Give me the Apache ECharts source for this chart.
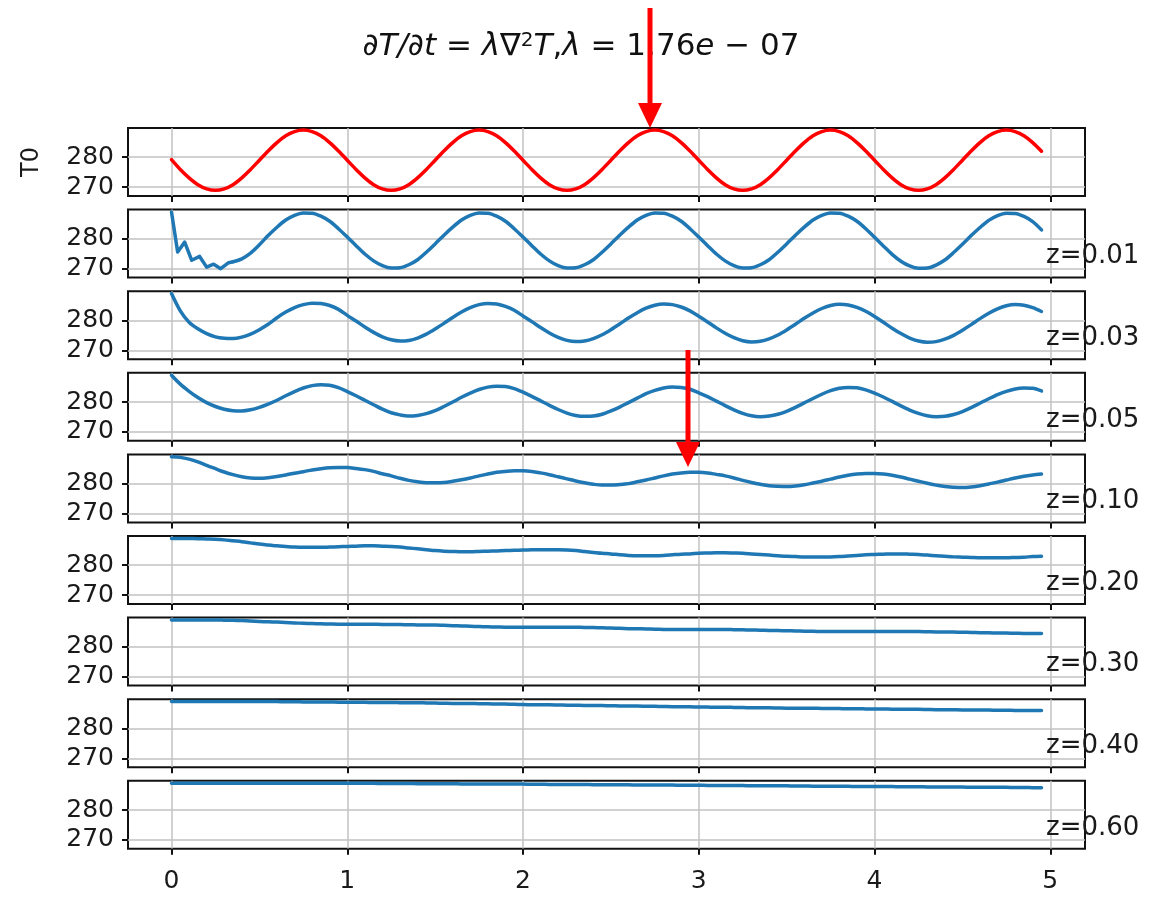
<!DOCTYPE html>
<html><head><meta charset="utf-8">
<script src="https://cdn.jsdelivr.net/npm/echarts@6/dist/echarts.min.js"></script>
<style>html,body{margin:0;padding:0;background:#fff}#c{width:1162px;height:898px}</style>
</head><body><div id="c"></div>
<script>
const times = [
  0,0.05,0.1,0.15,0.2,0.25,0.3,0.35,0.4,0.45,0.5,0.55,0.6,0.65,0.7,0.75,0.8,0.85,0.9,0.95,
  1,1.05,1.1,1.15,1.2,1.25,1.3,1.35,1.4,1.45,1.5,1.55,1.6,1.65,1.7,1.75,1.8,1.85,1.9,1.95,
  2,2.05,2.1,2.15,2.2,2.25,2.3,2.35,2.4,2.45,2.5,2.55,2.6,2.65,2.7,2.75,2.8,2.85,2.9,2.95,
  3,3.05,3.1,3.15,3.2,3.25,3.3,3.35,3.4,3.45,3.5,3.55,3.6,3.65,3.7,3.75,3.8,3.85,3.9,3.95,
  4,4.05,4.1,4.15,4.2,4.25,4.3,4.35,4.4,4.45,4.5,4.55,4.6,4.65,4.7,4.75,4.8,4.85,4.9,4.95];

const T0 = [
  279.2,275.9,273.1,270.8,269.4,268.9,269.4,270.8,273.1,275.9,279.0,282.1,284.9,287.2,288.6,289.1,288.6,287.2,284.9,282.1,
  279.0,275.9,273.1,270.8,269.4,268.9,269.4,270.8,273.1,275.9,279.0,282.1,284.9,287.2,288.6,289.1,288.6,287.2,284.9,282.1,
  279.0,275.9,273.1,270.8,269.4,268.9,269.4,270.8,273.1,275.9,279.0,282.1,284.9,287.2,288.6,289.1,288.6,287.2,284.9,282.1,
  279.0,275.9,273.1,270.8,269.4,268.9,269.4,270.8,273.1,275.9,279.0,282.1,284.9,287.2,288.6,289.1,288.6,287.2,284.9,282.1,
  279.0,275.9,273.1,270.8,269.4,268.9,269.4,270.8,273.1,275.9,279.0,282.1,284.9,287.2,288.6,289.1,288.6,287.2,284.9,282.0];

// z = 0.01: jagged start has its own time stamps, then the regular grid from t = 0.35
const z001EarlyTimes = [0,0.035,0.075,0.115,0.16,0.2,0.24,0.28,0.325];
const z001Early = [289.0,275.6,278.9,272.8,274.1,270.5,271.5,270.0,272.0];
const z001 = [
  272.3,273.3,275.2,278.0,281.1,283.9,286.3,287.9,288.7,288.6,287.6,285.9,283.4,
  280.6,277.7,274.9,272.6,271.0,270.2,270.3,271.3,273.0,275.5,278.3,281.2,283.9,286.3,287.9,288.7,288.6,287.6,285.9,283.4,
  280.6,277.7,274.9,272.6,271.0,270.2,270.3,271.3,273.0,275.5,278.3,281.2,283.9,286.3,287.9,288.7,288.6,287.6,285.9,283.4,
  280.6,277.7,274.9,272.6,271.0,270.2,270.3,271.3,273.0,275.5,278.3,281.2,283.9,286.3,287.9,288.7,288.6,287.6,285.9,283.4,
  280.5,277.6,274.8,272.5,270.9,270.1,270.2,271.2,272.9,275.4,278.2,281.1,283.8,286.2,287.8,288.6,288.5,287.5,285.8,283.0];

const z003 = [
  289.0,283.2,279.4,277.2,275.6,274.5,274.0,273.9,274.4,275.4,276.9,278.7,280.9,282.8,284.3,285.3,285.8,285.7,285.0,283.7,
  281.7,279.8,277.8,276.0,274.5,273.5,273.1,273.3,274.1,275.4,277.1,279.0,281.0,282.8,284.3,285.3,285.7,285.5,284.7,283.4,
  281.5,279.6,277.6,275.8,274.3,273.3,272.9,273.1,273.9,275.2,276.9,278.8,280.8,282.6,284.1,285.1,285.5,285.3,284.5,283.2,
  281.4,279.5,277.5,275.7,274.2,273.2,272.8,273.0,273.8,275.1,276.8,278.7,280.7,282.5,284.0,285.0,285.4,285.2,284.4,283.1,
  281.3,279.4,277.4,275.6,274.1,273.1,272.7,272.9,273.7,275.0,276.7,278.6,280.6,282.4,283.9,284.9,285.3,285.1,284.3,283.0];

const z005 = [
  289.0,286.0,283.6,281.5,279.8,278.5,277.6,277.1,277.0,277.4,278.2,279.3,280.6,282.1,283.5,284.7,285.5,285.8,285.6,284.8,
  283.5,282.1,280.6,279.1,277.6,276.4,275.7,275.3,275.5,276.1,277.1,278.5,280.0,281.6,283.0,284.2,285.0,285.3,285.2,284.5,
  283.3,281.9,280.4,278.9,277.5,276.3,275.5,275.2,275.3,275.9,277.0,278.3,279.8,281.3,282.8,283.9,284.7,285.0,284.9,284.3,
  283.1,281.8,280.3,278.8,277.4,276.2,275.4,275.1,275.3,275.9,276.9,278.2,279.7,281.2,282.6,283.8,284.6,284.9,284.8,284.1,
  283.0,281.7,280.2,278.7,277.3,276.2,275.4,275.1,275.2,275.8,276.8,278.1,279.6,281.1,282.5,283.6,284.4,284.7,284.6,283.7];

const z010 = [
  289.0,288.8,288.2,287.3,286.1,285.0,283.9,283.0,282.3,281.9,281.8,282.0,282.4,282.9,283.5,284.0,284.6,285.0,285.3,285.4,
  285.4,285.1,284.7,284.1,283.3,282.6,281.8,281.1,280.6,280.3,280.3,280.4,280.8,281.3,281.9,282.6,283.2,283.8,284.1,284.3,
  284.3,284.1,283.6,283.0,282.3,281.6,280.9,280.3,279.8,279.5,279.5,279.7,280.0,280.6,281.2,281.9,282.6,283.2,283.6,283.8,
  283.8,283.6,283.1,282.6,281.9,281.1,280.4,279.8,279.3,279.1,279.0,279.2,279.6,280.2,280.8,281.5,282.2,282.8,283.2,283.4,
  283.4,283.2,282.8,282.2,281.5,280.8,280.1,279.5,279.0,278.8,278.7,278.9,279.3,279.9,280.5,281.2,281.9,282.5,282.9,283.2];

const z020 = [
  289.0,289.0,288.95,288.9,288.8,288.7,288.5,288.2,287.9,287.5,287.1,286.8,286.5,286.3,286.1,286.0,286.0,286.0,286.1,286.2,
  286.3,286.4,286.5,286.5,286.4,286.3,286.1,285.8,285.5,285.2,284.9,284.7,284.6,284.5,284.5,284.6,284.7,284.8,284.9,285.0,
  285.1,285.15,285.2,285.2,285.2,285.1,284.9,284.6,284.3,284.0,283.8,283.5,283.3,283.2,283.2,283.2,283.3,283.5,283.7,283.8,
  284.0,284.1,284.2,284.2,284.1,284.0,283.8,283.6,283.4,283.2,283.0,282.9,282.8,282.8,282.8,282.8,282.9,283.1,283.3,283.5,
  283.6,283.7,283.8,283.8,283.7,283.6,283.4,283.2,283.0,282.8,282.7,282.6,282.5,282.5,282.5,282.5,282.6,282.7,282.9,283.0];

const z030 = [
  289.0,289.0,289.0,289.0,289.0,289.0,288.95,288.9,288.8,288.65,288.5,288.4,288.3,288.15,288.0,287.9,287.8,287.7,287.65,287.6,
  287.6,287.6,287.6,287.55,287.5,287.5,287.45,287.4,287.35,287.3,287.3,287.2,287.1,287.0,286.9,286.8,286.7,286.65,286.6,286.6,
  286.6,286.6,286.6,286.6,286.6,286.6,286.55,286.5,286.45,286.4,286.3,286.2,286.1,286.05,286.0,285.9,285.85,285.8,285.8,285.8,
  285.8,285.8,285.8,285.8,285.75,285.7,285.65,285.6,285.5,285.45,285.4,285.3,285.25,285.2,285.15,285.1,285.1,285.1,285.1,285.1,
  285.1,285.1,285.1,285.1,285.1,285.1,285.05,285.0,285.0,284.95,284.9,284.8,284.75,284.7,284.65,284.6,284.55,284.5,284.5,284.5];

const z040 = [
  289.0,289.0,289.0,289.0,289.0,289.0,289.0,289.0,289.0,289.0,289.0,289.0,289.0,288.95,288.95,288.9,288.9,288.85,288.85,288.8,
  288.8,288.75,288.75,288.7,288.7,288.7,288.65,288.6,288.6,288.55,288.5,288.45,288.4,288.4,288.35,288.3,288.25,288.2,288.15,288.1,
  288.0,287.95,287.9,287.9,287.85,287.8,287.75,287.7,287.7,287.65,287.6,287.55,287.5,287.5,287.45,287.4,287.35,287.3,287.3,287.25,
  287.2,287.15,287.1,287.1,287.05,287.0,286.95,286.9,286.9,286.85,286.8,286.8,286.75,286.75,286.7,286.7,286.65,286.6,286.6,286.55,
  286.5,286.5,286.45,286.45,286.4,286.4,286.35,286.3,286.3,286.25,286.2,286.2,286.15,286.15,286.1,286.1,286.05,286.05,286.0,286.0];

const z060 = [
  289.0,289.0,289.0,289.0,289.0,289.0,289.0,289.0,289.0,289.0,289.0,289.0,289.0,289.0,289.0,289.0,289.0,289.0,289.0,289.0,
  289.0,289.0,288.95,288.95,288.9,288.9,288.9,288.9,288.85,288.85,288.8,288.8,288.8,288.75,288.75,288.7,288.7,288.7,288.7,288.7,
  288.7,288.65,288.65,288.6,288.6,288.6,288.55,288.55,288.5,288.5,288.5,288.45,288.45,288.4,288.4,288.4,288.35,288.35,288.3,288.3,
  288.3,288.25,288.25,288.2,288.2,288.2,288.15,288.15,288.1,288.1,288.1,288.05,288.05,288.0,288.0,288.0,287.95,287.95,287.9,287.9,
  287.9,287.85,287.85,287.8,287.8,287.8,287.75,287.75,287.7,287.7,287.7,287.65,287.65,287.6,287.6,287.6,287.55,287.55,287.5,287.5];

const depthLabels = ['z=0.01','z=0.03','z=0.05','z=0.10','z=0.20','z=0.30','z=0.40','z=0.60'];
const xTicks = [0,1,2,3,4,5];
const yTicks = [270,280];
const yName = 'T0';

// ---- layout / style ----
const FONT = 'DejaVu Sans';
const panelTop = 128, panelStep = 81.6, panelH = 68, gLeft = 128, gRight = 77;
const zip = (ts, ys) => ys.map((v, k) => [ts[k], v]);
const lateTimes = times.slice(times.length - z001.length);
const panelData = [
  [zip(times, T0)],
  [zip(z001EarlyTimes.concat([lateTimes[0]]), z001Early.concat([z001[0]])), zip(lateTimes, z001)],
  [zip(times, z003)], [zip(times, z005)], [zip(times, z010)], [zip(times, z020)],
  [zip(times, z030)], [zip(times, z040)], [zip(times, z060)]
];

const grids = [], xAxes = [], yAxes = [], series = [];
const tickStyle = {color:'#111', width:2};
const gridLine = {color:'#c2c2c2', width:1.5};
panelData.forEach((parts, i) => {
  grids.push({left:gLeft, right:gRight, top:panelTop + i*panelStep, height:panelH,
    show:true, borderColor:'#111', borderWidth:2});
  xAxes.push({type:'value', gridIndex:i, min:-0.2475, max:5.1975, splitNumber:5,
    axisLine:{show:false, onZero:false},
    axisTick:{show:true, customValues:xTicks, length:6, lineStyle:tickStyle},
    axisLabel:{show:i === panelData.length - 1, customValues:xTicks, fontSize:25, fontFamily:FONT, color:'#1a1a1a', margin:20},
    splitLine:{show:true, showMinLine:true, showMaxLine:true, lineStyle:gridLine}});
  yAxes.push({type:'value', gridIndex:i, min:267.0, max:289.8, splitNumber:2,
    name: i === 0 ? yName : '', nameLocation:'middle', nameRotate:90, nameGap:84,
    nameTextStyle:{fontSize:24, fontFamily:FONT, color:'#1a1a1a'},
    axisLine:{show:false, onZero:false},
    axisTick:{show:true, customValues:yTicks, length:6, lineStyle:tickStyle},
    axisLabel:{customValues:yTicks, fontSize:25, fontFamily:FONT, color:'#1a1a1a', margin:14},
    splitLine:{show:true, showMinLine:true, showMaxLine:true, lineStyle:gridLine}});
  const color = i === 0 ? '#ff0000' : '#1f77b4';
  parts.forEach((data, p) => {
    series.push({type:'line', xAxisIndex:i, yAxisIndex:i, showSymbol:false, symbol:'none',
      smooth: (i === 1 && p === 0) ? false : 0.3,
      lineStyle:{color, width:3.5, cap:'round', join:'round'}, itemStyle:{color}, z:3, data});
  });
});

const graphic = [];
depthLabels.forEach((t, k) => {
  graphic.push({type:'text', x:1046, y:panelTop + (k+1)*panelStep + 47, z:100,
    style:{text:t, fontSize:26, fontFamily:FONT, fill:'#1a1a1a', verticalAlign:'middle'}});
});
function arrow(x, y0, y1) {
  graphic.push({type:'rect', z:101, shape:{x:x-2.5, y:y0, width:5, height:(y1-y0)-20}, style:{fill:'#ff0000'}});
  graphic.push({type:'polygon', z:101, shape:{points:[[x-12, y1-25],[x+12, y1-25],[x, y1]]}, style:{fill:'#ff0000'}});
}
arrow(650, 8, 128);
arrow(688, 350, 467);

const chart = echarts.init(document.getElementById('c'), null, {renderer:'canvas'});
chart.setOption({
  animation:false,
  backgroundColor:'#fff',
  title:{left:'center', top:26,
    text:'{i|∂T/∂t} = {i|λ∇}{s|2}{i|T},{i|λ} = 1.76{i|e} − 07',
    textStyle:{fontSize:31, fontFamily:FONT, fontWeight:'normal', color:'#111',
      rich:{i:{fontSize:31, fontStyle:'italic', fontFamily:FONT, color:'#111'},
            s:{fontSize:20, fontFamily:FONT, color:'#111', verticalAlign:'top', padding:[0,0,12,0]}}}},
  grid:grids, xAxis:xAxes, yAxis:yAxes, series, graphic
});
</script></body></html>
